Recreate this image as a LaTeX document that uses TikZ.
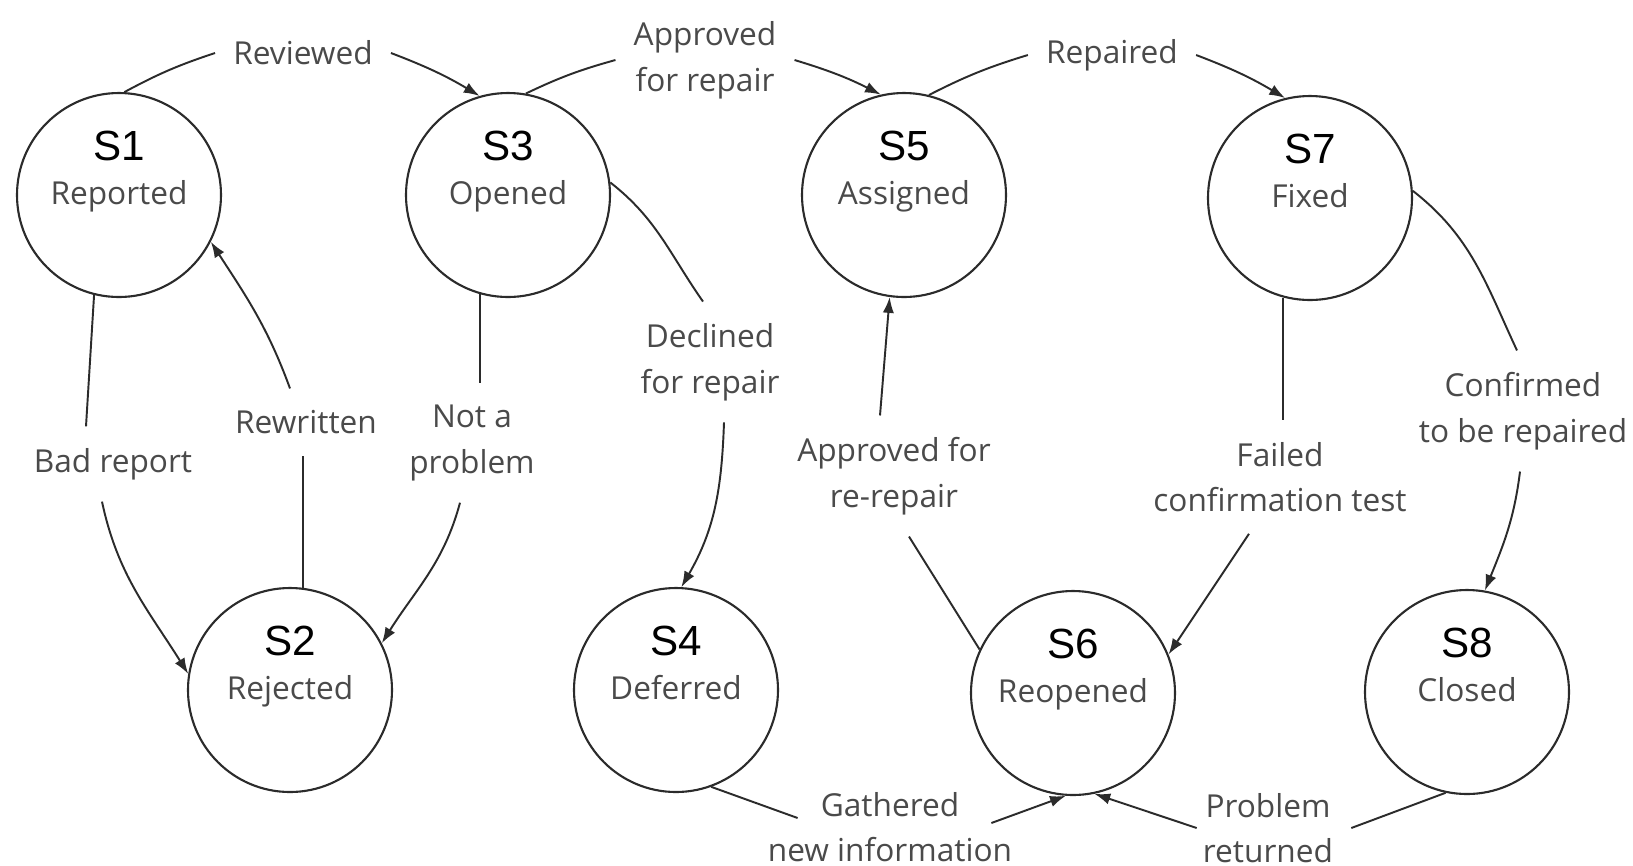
\documentclass[tikz,border=0pt]{standalone}
\usepackage{fontspec}
\usetikzlibrary{arrows.meta}
\newfontfamily\labelfont{Open Sans}
\newfontfamily\numfont{Liberation Sans}
\definecolor{ink}{HTML}{2b2b2b}
\definecolor{labelGrey}{HTML}{4a4a4a}
\def\stateD{2.04cm}

\begin{document}
\begin{tikzpicture}[
    state/.style={circle, draw=ink, line width=0.6pt, minimum size=\stateD, inner sep=0pt},
    snum/.style={font=\numfont\fontsize{12}{14}\selectfont, text=black, inner sep=0pt},
    sname/.style={font=\labelfont\fontsize{9}{13}\selectfont, text=labelGrey, inner sep=0pt},
    evlabel/.style={font=\labelfont\fontsize{9}{13}\selectfont, text=labelGrey,
                    align=center, inner xsep=5pt, inner ysep=6pt},
    conn/.style={draw=ink, line width=0.55pt},
    connArrow/.style={conn, -{Latex[length=4.5pt,width=3.2pt]}},
    ]

\useasboundingbox (0,0) rectangle (16.33,-8.65);
\fill[white] (0,0) rectangle (16.33,-8.65);

% ====================================================================
% States: number on top, name underneath
% ====================================================================
\foreach \n/\x/\y/\name in {1/1.19/-1.95/Reported, 2/2.90/-6.90/Rejected,
                            3/5.08/-1.95/Opened,   4/6.76/-6.90/Deferred,
                            5/9.04/-1.95/Assigned, 6/10.73/-6.93/Reopened,
                            7/13.10/-1.98/Fixed,   8/14.67/-6.92/Closed}{
    \node[state] (s\n) at (\x,\y) {};
    \node[snum, anchor=base] (s\n-num) at ([yshift=3.5mm]s\n.center) {S\n};
    \node[sname, anchor=base] (s\n-name) at ([yshift=-0.9mm]s\n.center) {\name};
}

% ====================================================================
% Transition labels
% ====================================================================
\node[evlabel] (lRev)  at (3.03,-0.53)  {Reviewed};
\node[evlabel] (lApp)  at (7.05,-0.60)  {Approved\\for repair};
\node[evlabel] (lRep)  at (11.12,-0.55) {Repaired};
\node[evlabel] (lBad)  at (1.13,-4.64)  {Bad report};
\node[evlabel] (lRew)  at (3.06,-4.22)  {Rewritten};
\node[evlabel] (lNot)  at (4.72,-4.43)  {Not a\\problem};
\node[evlabel] (lDec)  at (7.10,-3.62)  {Declined\\for repair};
\node[evlabel] (lAre)  at (8.94,-4.76)  {Approved for\\re-repair};
\node[evlabel] (lFail) at (12.80,-4.77) {Failed\\confirmation test};
\node[evlabel] (lConf) at (15.23,-4.11) {Confirmed\\to be repaired};
\node[evlabel] (lGat)  at (8.90,-8.27)  {Gathered\\new information};
\node[evlabel] (lPro)  at (12.68,-8.28) {Problem\\returned};

% ====================================================================
% Transitions (each one broken by its label)
% ====================================================================
% top row
\draw[conn] (s1.87) to[bend left=5] (lRev.west);
\draw[connArrow] (lRev.east) to[bend left=5] (s3.106);
\draw[conn] (s3.80) to[bend left=5] (lApp.west);
\draw[connArrow] (lApp.east) to[bend left=5] (s5.103);
\draw[conn] (s5.76) to[bend left=5] (lRep.west);
\draw[connArrow] (lRep.east) to[bend left=5] (s7.104);

% rejection loop
\draw[conn] (s1.256) -- ([xshift=-2.7mm]lBad.north);
\draw[connArrow] ([xshift=-1.1mm]lBad.south) to[out=-78, in=122] (s2.171);
\draw[conn] (s2.83) -- (s2.83 |- lRew.south);
\draw[connArrow] ([xshift=-1.6mm]lRew.north) to[out=110, in=-57] (s1.333);
\draw[conn] (s3.254) -- (s3.254 |- lNot.north);
\draw[connArrow] ([xshift=-1.2mm]lNot.south) to[out=-105, in=58] (s2.27);

% deferral
\draw[conn] (s3.7) to[out=-38, in=125] ([xshift=-0.7mm]lDec.north);
\draw[connArrow] ([xshift=1.4mm]lDec.south) to[out=-92, in=60] (s4.87);

% re-repair cycle
\draw[conn] (s6.155) -- ([xshift=1.5mm]lAre.south);
\draw[connArrow] ([xshift=-1.4mm]lAre.north) -- (s5.262);
\draw[conn] (s7.255) -- (s7.255 |- lFail.north);
\draw[connArrow] ([xshift=-3.1mm]lFail.south) -- (s6.22);

% closing
\draw[conn] (s7.4) to[out=-38, in=115] ([xshift=-0.6mm]lConf.north);
\draw[connArrow] ([xshift=-0.3mm]lConf.south) to[out=-97, in=68] (s8.80);

% back into Reopened along the bottom
\draw[conn] (s4.290) -- ([xshift=4.8mm,yshift=0.9mm]lGat.west);
\draw[connArrow] ([xshift=-3.9mm,yshift=0.4mm]lGat.east) -- (s6.266);
\draw[conn] (s8.258) -- (lPro.east);
\draw[connArrow] ([xshift=1.2mm]lPro.west) -- (s6.282);

\end{tikzpicture}
\end{document}
